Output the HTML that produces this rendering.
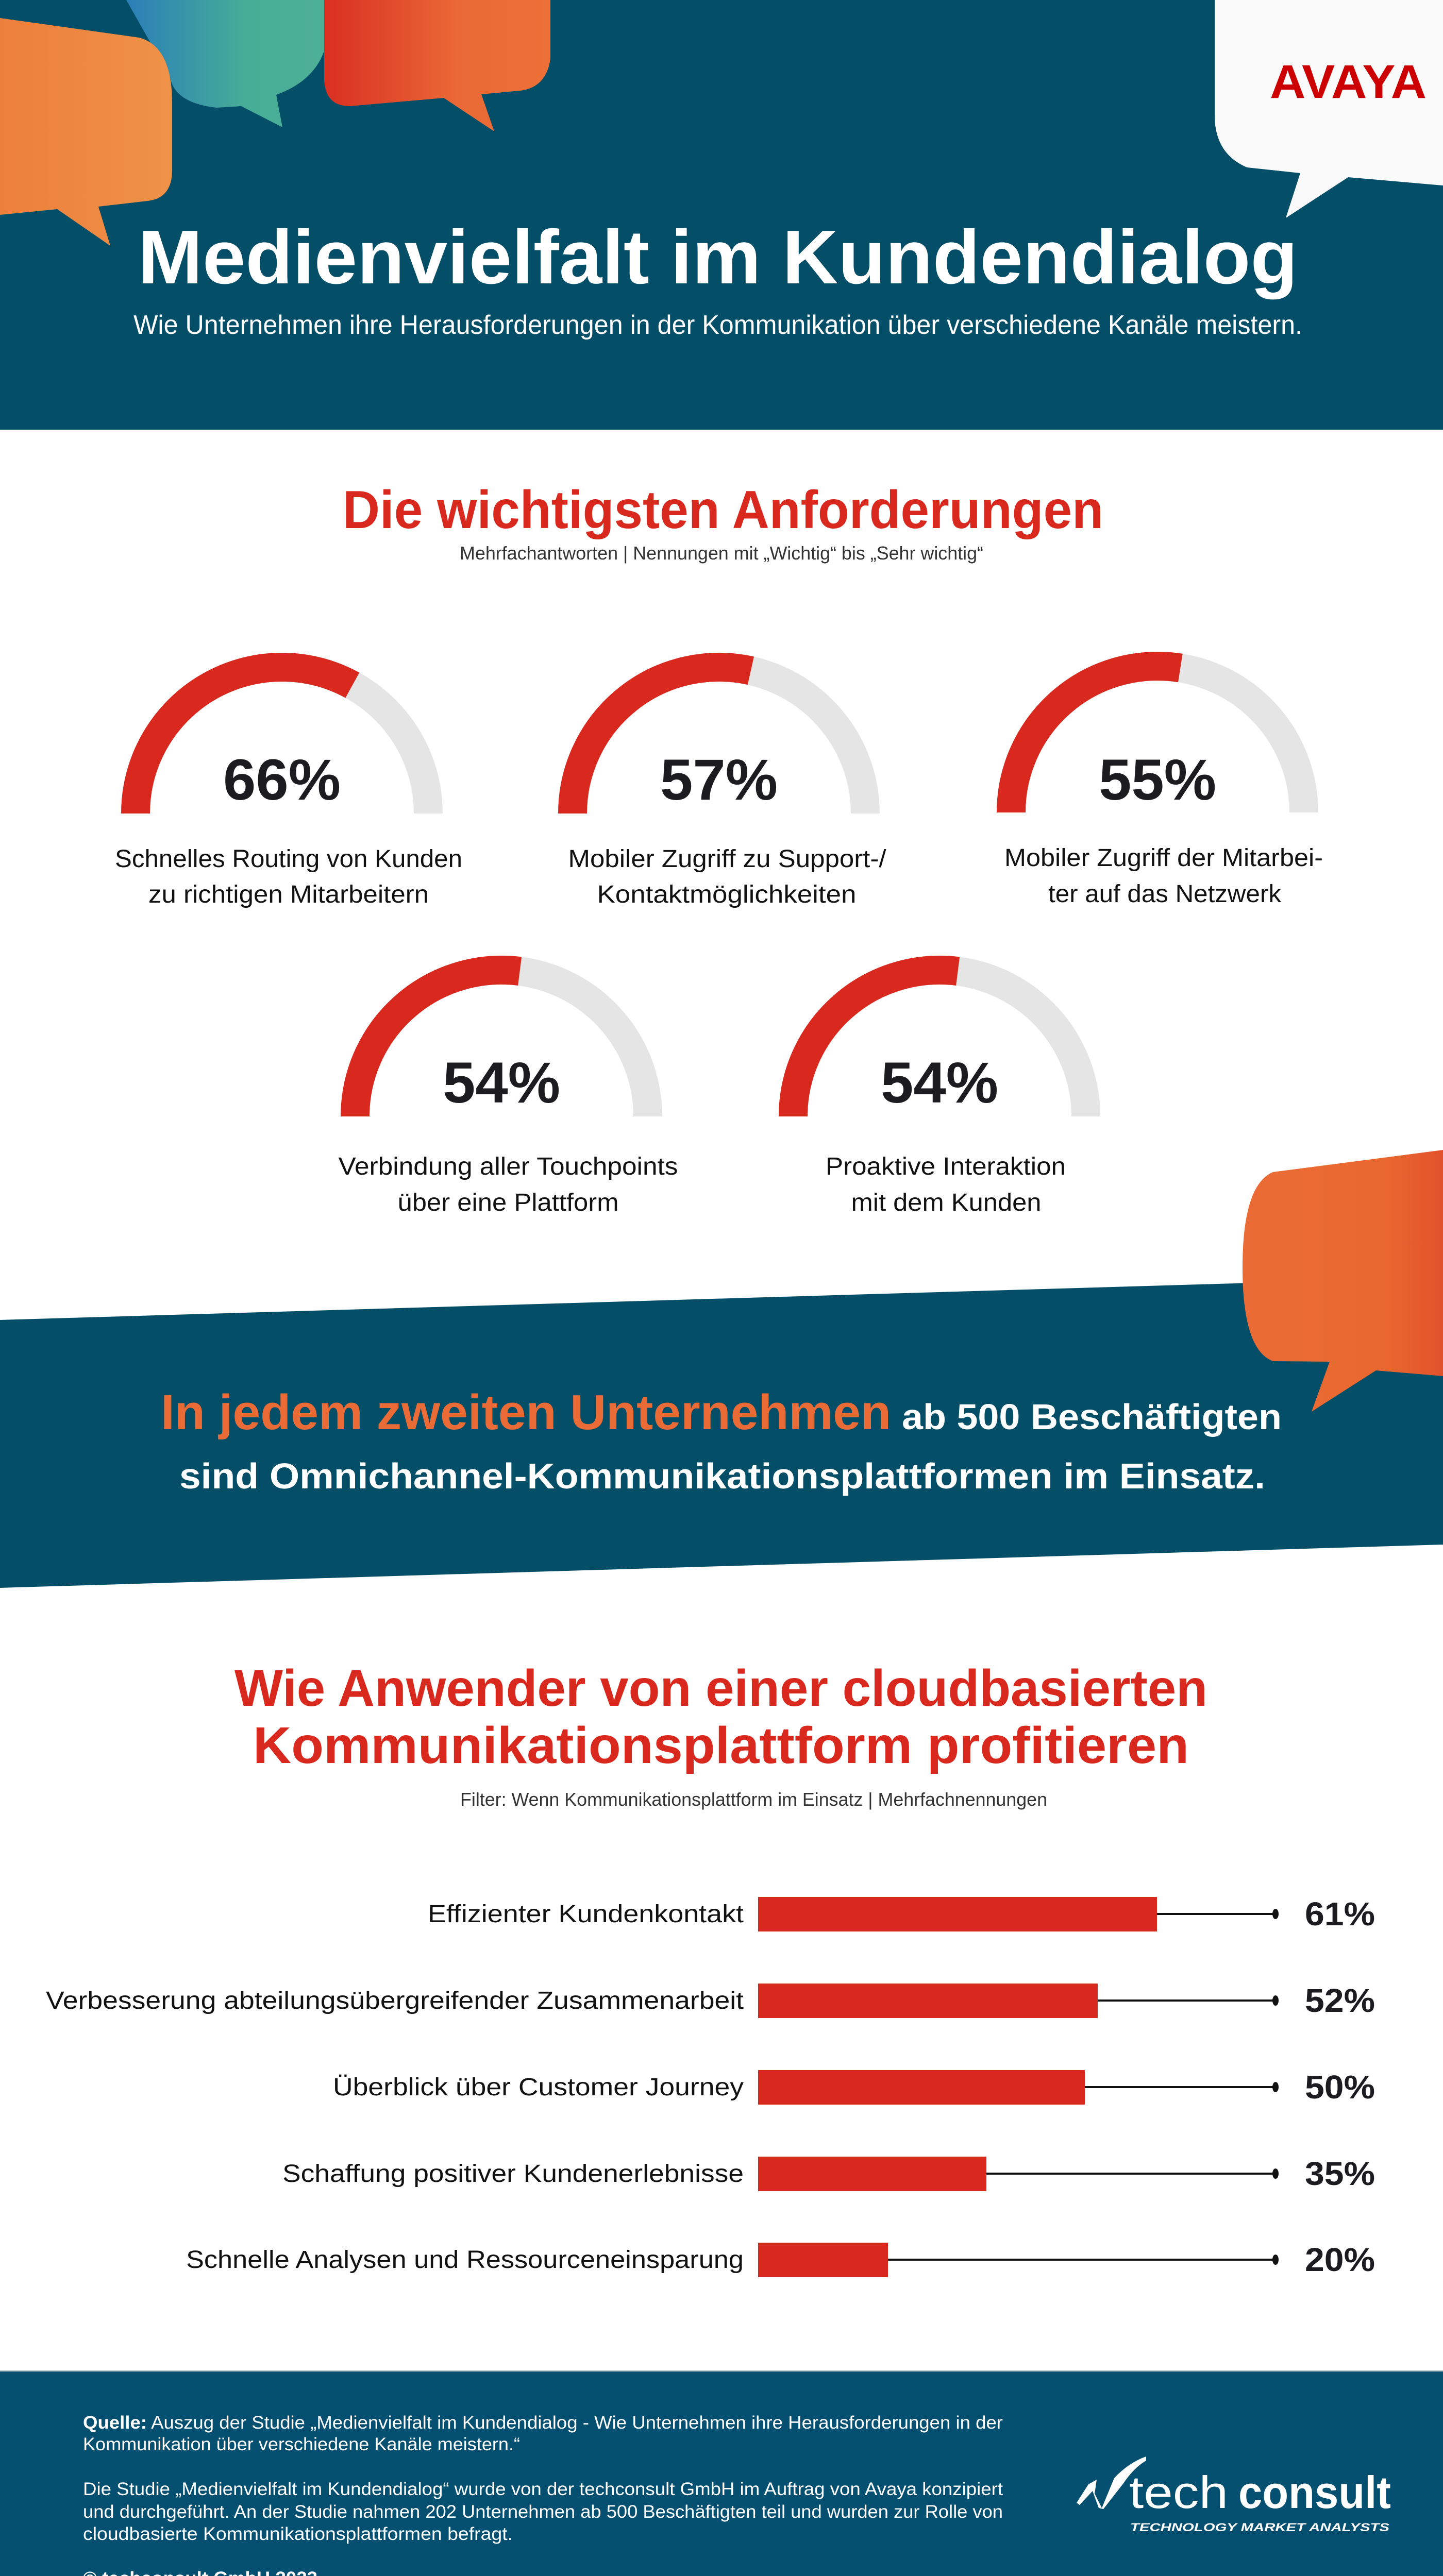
<!DOCTYPE html>
<html><head><meta charset="utf-8"><style>
html,body{margin:0;padding:0;background:#fff;width:2800px;height:5085px;overflow:hidden;}
svg{display:block;position:absolute;left:0;top:0;}
text{font-family:"Liberation Sans",sans-serif;}
</style></head><body>
<svg xmlns="http://www.w3.org/2000/svg" width="2800" height="5085" viewBox="0 0 2800 5085">
<defs>
<linearGradient id="gOr" x1="0" x2="1" y1="0" y2="0"><stop offset="0" stop-color="#ec7f3b"/><stop offset="1" stop-color="#ef9248"/></linearGradient>
<linearGradient id="gTe" x1="0" x2="1" y1="0" y2="0"><stop offset="0" stop-color="#2a7fb8"/><stop offset="0.6" stop-color="#47ad96"/><stop offset="1" stop-color="#4db096"/></linearGradient>
<linearGradient id="gRe" x1="0" x2="1" y1="0" y2="0"><stop offset="0" stop-color="#d92f22"/><stop offset="0.6" stop-color="#ea6936"/><stop offset="1" stop-color="#ec7038"/></linearGradient>
<linearGradient id="gOr2" x1="0" x2="1" y1="0" y2="0"><stop offset="0" stop-color="#ea6b35"/><stop offset="0.7" stop-color="#e9682f"/><stop offset="1" stop-color="#e2522b"/></linearGradient>
</defs>

<rect x="0" y="0" width="2800" height="834" fill="#054e68"/>
<path d="M245,0 L637,0 L637,60 Q630,150 536,184 L548,247 L468,206 L420,209 Q339,200 330,150 Z" fill="url(#gTe)"/>
<path d="M629,0 L1068,0 L1068,114 Q1060,170 1009,176 L934,183 L959,255 L861,190 L679,206 Q629,206 629,150 Z" fill="url(#gRe)"/>
<path d="M0,35 L270,73 Q334,90 334,200 L334,330 Q334,385 286,390 L191,401 L214,477 L111,406 L0,417 Z" fill="url(#gOr)"/>
<path d="M2357,0 L2800,0 L2800,360 L2616,344 L2495,423 L2523,336 L2420,325 Q2360,300 2357,230 Z" fill="#fafafa"/>
<text x="2464" y="190" font-size="92" font-weight="bold" fill="#cc0000" textLength="304" lengthAdjust="spacingAndGlyphs">AVAYA</text>
<text x="268" y="550" font-size="148" font-weight="bold" fill="#fff" textLength="2250" lengthAdjust="spacingAndGlyphs">Medienvielfalt im Kundendialog</text>
<text x="259" y="648" font-size="52" fill="#fff" textLength="2268" lengthAdjust="spacingAndGlyphs">Wie Unternehmen ihre Herausforderungen in der Kommunikation über verschiedene Kanäle meistern.</text>

<text x="665" y="1025" font-size="104" font-weight="bold" fill="#d9291f" textLength="1476" lengthAdjust="spacingAndGlyphs">Die wichtigsten Anforderungen</text>
<text x="892" y="1086" font-size="36" fill="#333" textLength="1016" lengthAdjust="spacingAndGlyphs">Mehrfachantworten | Nennungen mit „Wichtig“ bis „Sehr wichtig“</text>

<g fill="none" stroke-width="56">
<path d="M263,1579 A284,284 0 0 1 831,1579" stroke="#e5e5e5"/>
<path d="M263,1579 A284,284 0 0 1 683.8,1330.1" stroke="#d9291f"/>
<path d="M1111,1579 A284,284 0 0 1 1679,1579" stroke="#e5e5e5"/>
<path d="M1111,1579 A284,284 0 0 1 1456.9,1301.8" stroke="#d9291f"/>
<path d="M1962,1577 A284,284 0 0 1 2530,1577" stroke="#e5e5e5"/>
<path d="M1962,1577 A284,284 0 0 1 2290.4,1296.5" stroke="#d9291f"/>
<path d="M689,2167 A284,284 0 0 1 1257,2167" stroke="#e5e5e5"/>
<path d="M689,2167 A284,284 0 0 1 1008.6,1885.2" stroke="#d9291f"/>
<path d="M1539,2167 A284,284 0 0 1 2107,2167" stroke="#e5e5e5"/>
<path d="M1539,2167 A284,284 0 0 1 1858.6,1885.2" stroke="#d9291f"/>
</g>
<g font-size="112" font-weight="bold" fill="#1c1b1f" text-anchor="middle">
<text x="547" y="1552" textLength="228" lengthAdjust="spacingAndGlyphs">66%</text>
<text x="1395" y="1552" textLength="228" lengthAdjust="spacingAndGlyphs">57%</text>
<text x="2246" y="1552" textLength="228" lengthAdjust="spacingAndGlyphs">55%</text>
<text x="973" y="2140" textLength="228" lengthAdjust="spacingAndGlyphs">54%</text>
<text x="1823" y="2140" textLength="228" lengthAdjust="spacingAndGlyphs">54%</text>
</g>
<g font-size="48" fill="#111" text-anchor="middle">
<text x="560" y="1683" textLength="674" lengthAdjust="spacingAndGlyphs">Schnelles Routing von Kunden</text>
<text x="560" y="1752" textLength="544" lengthAdjust="spacingAndGlyphs">zu richtigen Mitarbeitern</text>
<text x="1411" y="1683" textLength="617" lengthAdjust="spacingAndGlyphs">Mobiler Zugriff zu Support-/</text>
<text x="1410" y="1752" textLength="503" lengthAdjust="spacingAndGlyphs">Kontaktmöglichkeiten</text>
<text x="2258" y="1681" textLength="618" lengthAdjust="spacingAndGlyphs">Mobiler Zugriff der Mitarbei-</text>
<text x="2260" y="1751" textLength="452" lengthAdjust="spacingAndGlyphs">ter auf das Netzwerk</text>
<text x="986" y="2280" textLength="659" lengthAdjust="spacingAndGlyphs">Verbindung aller Touchpoints</text>
<text x="986" y="2350" textLength="429" lengthAdjust="spacingAndGlyphs">über eine Plattform</text>
<text x="1835" y="2280" textLength="466" lengthAdjust="spacingAndGlyphs">Proaktive Interaktion</text>
<text x="1836" y="2350" textLength="369" lengthAdjust="spacingAndGlyphs">mit dem Kunden</text>
</g>

<path d="M0,2562 L2800,2479 L2800,2998 L0,3082 Z" fill="#054e68"/>
<path d="M2470,2275 L2800,2232 L2800,2671 L2670,2660 L2545,2740 L2580,2643 L2470,2642 Q2411,2620 2411,2460 Q2411,2300 2470,2275 Z" fill="url(#gOr2)"/>
<text x="312" y="2774" font-size="96" font-weight="bold" fill="#ea6b35" textLength="1417" lengthAdjust="spacingAndGlyphs">In jedem zweiten Unternehmen</text>
<text x="1750" y="2774" font-size="70" font-weight="bold" fill="#fff" textLength="737" lengthAdjust="spacingAndGlyphs">ab 500 Beschäftigten</text>
<text x="348" y="2889" font-size="70" font-weight="bold" fill="#fff" textLength="2107" lengthAdjust="spacingAndGlyphs">sind Omnichannel-Kommunikationsplattformen im Einsatz.</text>

<text x="455" y="3311" font-size="100" font-weight="bold" fill="#d9291f" textLength="1888" lengthAdjust="spacingAndGlyphs">Wie Anwender von einer cloudbasierten</text>
<text x="491" y="3422" font-size="100" font-weight="bold" fill="#d9291f" textLength="1816" lengthAdjust="spacingAndGlyphs">Kommunikationsplattform profitieren</text>
<text x="893" y="3505" font-size="36" fill="#333" textLength="1139" lengthAdjust="spacingAndGlyphs">Filter: Wenn Kommunikationsplattform im Einsatz | Mehrfachnennungen</text>

<g stroke="#111" stroke-width="4">
<line x1="2245" y1="3715" x2="2475" y2="3715"/>
<line x1="2130" y1="3883" x2="2475" y2="3883"/>
<line x1="2105" y1="4051" x2="2475" y2="4051"/>
<line x1="1914" y1="4219" x2="2475" y2="4219"/>
<line x1="1723" y1="4386" x2="2475" y2="4386"/>
</g>
<g fill="#111">
<ellipse cx="2475" cy="3715" rx="6" ry="10"/>
<ellipse cx="2475" cy="3883" rx="6" ry="10"/>
<ellipse cx="2475" cy="4051" rx="6" ry="10"/>
<ellipse cx="2475" cy="4219" rx="6" ry="10"/>
<ellipse cx="2475" cy="4386" rx="6" ry="10"/>
</g>
<g fill="#d9291f">
<rect x="1471" y="3682" width="774" height="67"/>
<rect x="1471" y="3850" width="659" height="67"/>
<rect x="1471" y="4018" width="634" height="67"/>
<rect x="1471" y="4186" width="443" height="67"/>
<rect x="1471" y="4353" width="252" height="67"/>
</g>
<g font-size="48" fill="#111" text-anchor="end">
<text x="1443" y="3731" textLength="613" lengthAdjust="spacingAndGlyphs">Effizienter Kundenkontakt</text>
<text x="1443" y="3899" textLength="1354" lengthAdjust="spacingAndGlyphs">Verbesserung abteilungsübergreifender Zusammenarbeit</text>
<text x="1443" y="4067" textLength="797" lengthAdjust="spacingAndGlyphs">Überblick über Customer Journey</text>
<text x="1443" y="4235" textLength="895" lengthAdjust="spacingAndGlyphs">Schaffung positiver Kundenerlebnisse</text>
<text x="1443" y="4402" textLength="1082" lengthAdjust="spacingAndGlyphs">Schnelle Analysen und Ressourceneinsparung</text>
</g>
<g font-size="64" font-weight="bold" fill="#1c1b1f">
<text x="2532" y="3737" textLength="136" lengthAdjust="spacingAndGlyphs">61%</text>
<text x="2532" y="3905" textLength="136" lengthAdjust="spacingAndGlyphs">52%</text>
<text x="2532" y="4073" textLength="136" lengthAdjust="spacingAndGlyphs">50%</text>
<text x="2532" y="4241" textLength="136" lengthAdjust="spacingAndGlyphs">35%</text>
<text x="2532" y="4408" textLength="136" lengthAdjust="spacingAndGlyphs">20%</text>
</g>

<rect x="0" y="4602" width="2800" height="483" fill="#055070"/>
<rect x="0" y="4600" width="2800" height="3" fill="#c9d3da"/>
<g font-size="35" fill="#fff">
<text x="161" y="4714" textLength="1785" lengthAdjust="spacingAndGlyphs"><tspan font-weight="bold">Quelle:</tspan> Auszug der Studie „Medienvielfalt im Kundendialog - Wie Unternehmen ihre Herausforderungen in der</text>
<text x="161" y="4756" textLength="848" lengthAdjust="spacingAndGlyphs">Kommunikation über verschiedene Kanäle meistern.“</text>
<text x="161" y="4843" textLength="1785" lengthAdjust="spacingAndGlyphs">Die Studie „Medienvielfalt im Kundendialog“ wurde von der techconsult GmbH im Auftrag von Avaya konzipiert</text>
<text x="161" y="4887" textLength="1785" lengthAdjust="spacingAndGlyphs">und durchgeführt. An der Studie nahmen 202 Unternehmen ab 500 Beschäftigten teil und wurden zur Rolle von</text>
<text x="161" y="4930" textLength="834" lengthAdjust="spacingAndGlyphs">cloudbasierte Kommunikationsplattformen befragt.</text>
<text x="161" y="5016" font-weight="bold" textLength="455" lengthAdjust="spacingAndGlyphs">© techconsult GmbH 2023</text>
</g>
<path d="M2089,4858 L2112,4822 L2128,4813 L2124,4840 L2138,4868 L2162,4810 Q2190,4780 2224,4768 L2224,4776 Q2200,4790 2180,4820 L2141,4870 L2132,4868 L2120,4835 L2095,4862 Z" fill="#fff"/>
<text x="2191" y="4868" font-size="88" fill="#fff" textLength="192" lengthAdjust="spacingAndGlyphs">tech</text>
<text x="2403" y="4868" font-size="88" font-weight="bold" fill="#fff" textLength="296" lengthAdjust="spacingAndGlyphs">consult</text>
<text x="2193" y="4913" font-size="22" font-weight="bold" font-style="italic" fill="#fff" textLength="503" lengthAdjust="spacingAndGlyphs">TECHNOLOGY MARKET ANALYSTS</text>
</svg>
</body></html>
